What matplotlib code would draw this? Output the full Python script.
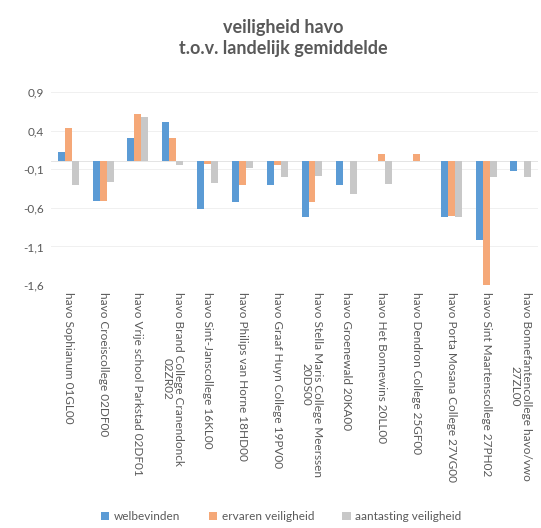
import numpy as np
import matplotlib
matplotlib.use("Agg")
import matplotlib.pyplot as plt

plt.rcParams['font.family'] = ['Lato', 'DejaVu Sans']

# schools (BRIN codes)
schools = [
    "havo Sophianum 01GL00",
    "havo Croeiscollege 02DF00",
    "havo Vrije school Parkstad 02DF01",
    "havo Brand College Cranendonck\n02ZR02",
    "havo Sint-Janscollege 16KL00",
    "havo Philips van Horne 18HD00",
    "havo Graaf Huyn College 19PV00",
    "havo Stella Maris College Meerssen\n20DS00",
    "havo Groenewald 20KA00",
    "havo Het Bonnewins 20LL00",
    "havo Dendron College 25GF00",
    "havo Porta Mosana College 27VG00",
    "havo Sint Maartenscollege 27PH02",
    "havo Bonnefantencollege havo/vwo\n27ZL00",
]

# difference vs national average
welbevinden = [0.12, -0.51, 0.30, 0.51, -0.62, -0.52, -0.30, -0.72, -0.31, 0.0, 0.0, -0.72, -1.01, -0.12]
ervaren_veiligheid = [0.43, -0.51, 0.61, 0.30, -0.03, -0.30, -0.05, -0.52, 0.0, 0.10, 0.10, -0.70, -1.60, 0.0]
aantasting_veiligheid = [-0.30, -0.27, 0.58, -0.05, -0.28, -0.08, -0.20, -0.19, -0.42, -0.29, 0.0, -0.72, -0.20, -0.20]

series_names = ["welbevinden", "ervaren veiligheid", "aantasting veiligheid"]
yticks = [0.9, 0.4, -0.1, -0.6, -1.1, -1.6]

colors = ["#5B9BD5", "#F5A878", "#C8C8C8"]
txt = "#595959"

fig = plt.figure(figsize=(5.41, 5.28), dpi=100)
ax = fig.add_axes([0.094, 0.460, 0.901, 0.366])

x = np.arange(len(schools))
w = 0.2
for i, (vals, name) in enumerate(zip([welbevinden, ervaren_veiligheid, aantasting_veiligheid], series_names)):
    ax.bar(x + (i - 1) * w, vals, width=w, color=colors[i], label=name, zorder=3)

ax.set_ylim(-1.6, 0.9)
ax.set_xlim(-0.5, len(schools) - 0.5)
ax.set_yticks(yticks)
ax.set_yticklabels([f"{v:.1f}".replace(".", ",") for v in yticks], fontsize=8.5, color=txt)
ax.set_xticks(x)
ax.set_xticklabels(schools, rotation=-90, ha="center", va="top", fontsize=8.5,
                   color=txt, multialignment="center", linespacing=1.1)
ax.tick_params(length=0, pad=5)
ax.grid(axis="y", color="#F0F0F0", linewidth=0.7, zorder=0)
ax.axhline(0, color="#E4E4E4", linewidth=0.7, zorder=2)
for s in ax.spines.values():
    s.set_visible(False)

fig.text(0.523, 0.928, "veiligheid havo\nt.o.v. landelijk gemiddelde", ha="center", va="center",
         fontsize=13, fontweight="bold", color=txt, linespacing=1.25)

fig.legend(loc="center", bbox_to_anchor=(0.52, 0.021), ncol=3, frameon=False, fontsize=8.5,
           handlelength=0.7, handleheight=0.7, columnspacing=2.4, handletextpad=0.4,
           labelcolor=txt)

fig.savefig("out.png", dpi=100, facecolor="white")
